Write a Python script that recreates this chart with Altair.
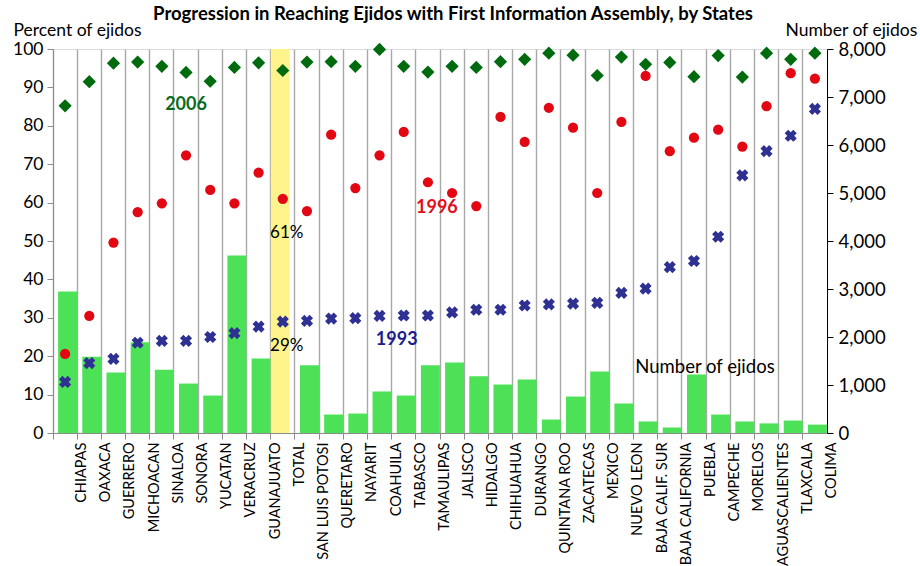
import altair as alt
import pandas as pd

# States ordered as on the category axis (TOTAL sits between GUANAJUATO and SAN LUIS POTOSI)
states = [
    "CHIAPAS", "OAXACA", "GUERRERO", "MICHOACAN", "SINALOA", "SONORA", "YUCATAN",
    "VERACRUZ", "GUANAJUATO", "TOTAL", "SAN LUIS POTOSI", "QUERETARO", "NAYARIT",
    "COAHUILA", "TABASCO", "TAMAULIPAS", "JALISCO", "HIDALGO", "CHIHUAHUA", "DURANGO",
    "QUINTANA ROO", "ZACATECAS", "MEXICO", "NUEVO LEON", "BAJA CALIF. SUR",
    "BAJA CALIFORNIA", "PUEBLA", "CAMPECHE", "MORELOS", "AGUASCALIENTES", "TLAXCALA",
    "COLIMA",
]

# Percent of ejidos reached, by year
pct_2006 = [85.2, 91.5, 96.3, 96.6, 95.5, 93.9, 91.6, 95.2, 96.4, 94.4, 96.6, 96.7,
            95.5, 99.9, 95.5, 94.0, 95.5, 95.2, 96.7, 97.3, 98.9, 98.4, 93.1, 97.9,
            96.0, 96.5, 92.8, 98.3, 92.7, 98.9, 97.3, 98.9]
pct_1996 = [20.6, 30.5, 49.6, 57.5, 59.8, 72.3, 63.3, 59.8, 67.8, 61.0, 57.8, 77.7,
            63.8, 72.3, 78.4, 65.3, 62.5, 59.1, 82.3, 75.8, 84.7, 79.5, 62.5, 81.0,
            93.0, 73.4, 76.9, 79.0, 74.6, 85.1, 93.7, 92.3]
pct_1993 = [13.3, 18.2, 19.3, 23.5, 24.0, 24.0, 25.0, 26.0, 27.7, 29.0, 29.2, 29.8,
            29.9, 30.5, 30.6, 30.6, 31.4, 32.1, 32.1, 33.2, 33.5, 33.7, 33.9, 36.5,
            37.6, 43.2, 44.8, 51.1, 67.1, 73.4, 77.4, 84.4]

# Number of ejidos per state (no bar for the national total)
ejidos = [2950, 1590, 1260, 1890, 1320, 1030, 780, 3700, 1550, None, 1410, 385,
          405, 865, 780, 1410, 1470, 1180, 1010, 1115, 280, 760, 1280, 615,
          240, 115, 1220, 385, 240, 200, 260, 175]

# Highlighted column (national total)
highlight = [None] * len(states)
highlight[states.index("TOTAL")] = 100

df = pd.DataFrame({
    "state": states,
    "p2006": pct_2006,
    "p1996": pct_1996,
    "p1993": pct_1993,
    "ejidos": ejidos,
    "highlight": highlight,
})

FONT = "Lato"
W, H = 774, 384

x_scale = alt.Scale(domain=states, paddingInner=0, paddingOuter=0)
x_axis = alt.Axis(
    title=None, labelAngle=-90, bandPosition=0, labelOffset=17,
    grid=True, gridColor="#a8a8a8", gridWidth=1.4,
    ticks=True, tickSize=6, tickColor="#8c8c8c", domainColor="#8c8c8c",
    labelFont=FONT, labelFontSize=14.5, labelColor="black", labelPadding=3,
)
x_enc = alt.X("state:N", scale=x_scale, axis=x_axis)

left_axis = alt.Axis(
    title="Percent of ejidos", titleAngle=0, titleAlign="left", titleBaseline="alphabetic",
    titleX=-40, titleY=-14, titleFont=FONT, titleFontSize=17.5, titleFontWeight="normal",
    titleColor="black", values=list(range(0, 101, 10)), grid=False,
    labelFont=FONT, labelFontSize=17.5, labelColor="black", labelPadding=4,
    tickSize=6, tickColor="#8c8c8c", domainColor="#8c8c8c",
)
right_axis = alt.Axis(
    title="Number of ejidos", titleAngle=0, titleAlign="left", titleBaseline="alphabetic",
    titleX=-42, titleY=-14, titleFont=FONT, titleFontSize=17.5, titleFontWeight="normal",
    titleColor="black", orient="right", format=",.0f", values=list(range(0, 8001, 1000)),
    grid=False, labelFont=FONT, labelFontSize=18.5, labelColor="black", labelPadding=5,
    tickSize=6, tickColor="black", domainColor="black",
)
pct_scale = alt.Scale(domain=[0, 100], nice=False)
count_scale = alt.Scale(domain=[0, 8000], nice=False)


def y_pct(field):
    return alt.Y(field, type="quantitative", scale=pct_scale, axis=left_axis)


base = alt.Chart(df)

# Right-axis layer: number of ejidos
bars = base.mark_bar(width=19, xOffset=2.5, color="#4de158").encode(
    x=x_enc,
    y=alt.Y("ejidos:Q", scale=count_scale, axis=right_axis),
)

# Left-axis layer: highlighted total and the three survey years
hl = base.mark_bar(width=19, xOffset=-2.5, color="#fff38c").encode(
    x=x_enc, y=y_pct("highlight")
)
d2006 = base.mark_point(shape="diamond", filled=True, size=175, color="#006a0e",
                        opacity=1).encode(x=x_enc, y=y_pct("p2006"))
d1996 = base.mark_point(shape="circle", filled=True, size=105, color="#e30613",
                        opacity=1).encode(x=x_enc, y=y_pct("p1996"))
d1993 = base.mark_point(shape="cross", angle=45, filled=True, size=150, color="#2e3192",
                        opacity=1).encode(x=x_enc, y=y_pct("p1993"))

ti = states.index("TOTAL")


def note(text, state, value, color, bold=True, dx=0, dy=0, size=18):
    return alt.Chart().mark_text(
        text=text, font=FONT, fontSize=size, fontWeight="bold" if bold else "normal",
        color=color, xOffset=dx, yOffset=dy,
    ).encode(
        x=alt.X(datum=state, type="nominal", scale=x_scale, axis=x_axis),
        y=alt.Y(datum=value, type="quantitative", scale=pct_scale, axis=left_axis),
    )


notes = [
    note("2006", "SONORA", 85.4, "#0b6b1c"),
    note("1996", "TAMAULIPAS", 58.5, "#e0101a", dx=9),
    note("1993", "TABASCO", 24.1, "#1c1c8c", dx=-7),
    note(f"{pct_1996[ti]:.0f}%", "TOTAL", pct_1996[ti], "black", bold=False, dx=4, dy=34, size=17),
    note(f"{pct_1993[ti]:.0f}%", "TOTAL", pct_1993[ti], "black", bold=False, dx=4, dy=24, size=17),
    # caption for the bars, placed at 1,366 ejidos on the right-hand scale
    note("Number of ejidos", "PUEBLA", 1366 / 80, "black", bold=False, dx=11, size=18.5),
]

left = alt.layer(hl, d2006, d1996, d1993, *notes)

chart = alt.layer(bars, left).resolve_scale(y="independent").properties(
    width=W, height=H,
    autosize=alt.AutoSizeParams(type="none"),
    padding={"left": 53, "top": 49, "right": 93, "bottom": 133},
    title=alt.TitleParams(
        "Progression in Reaching Ejidos with First Information Assembly, by States",
        font=FONT, fontSize=18.5, fontWeight="bold", color="black",
        anchor="middle", dx=13, offset=-2,
    ),
).configure_view(stroke="#9c9c9c", strokeWidth=1.2).configure(background="white")

chart.save("out.html", embed_options={"renderer": "svg", "actions": False})
